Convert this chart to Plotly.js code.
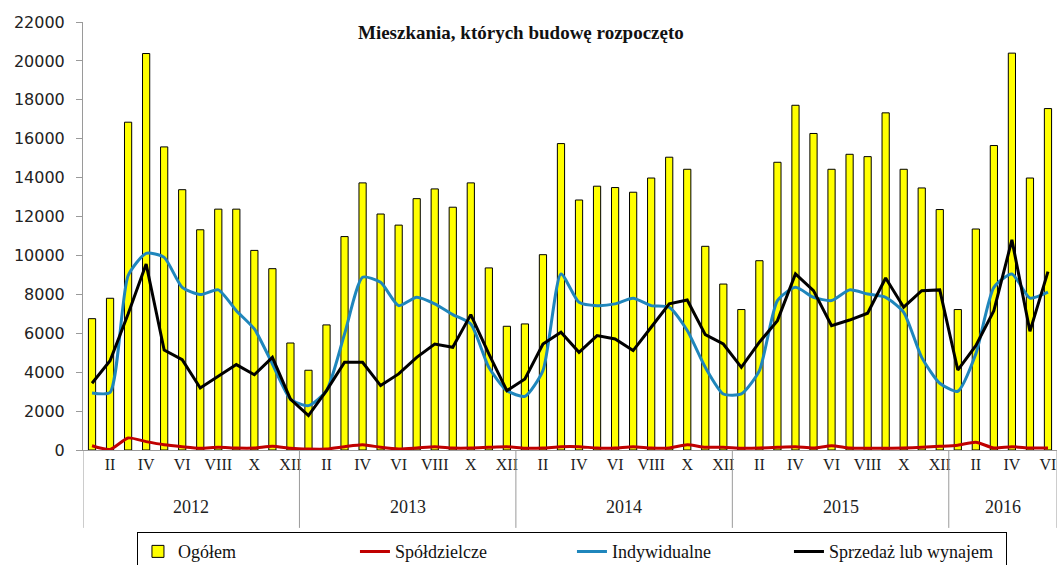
<!DOCTYPE html>
<html>
<head>
<meta charset="utf-8">
<script src="https://cdn.plot.ly/plotly-3.0.1.min.js"></script>
<style>html,body{margin:0;padding:0;background:#fff;}#chart{width:1063px;height:565px;}</style>
</head>
<body>
<div id="chart"></div>
<script>
// ---- data ----
const years = ['2012', '2013', '2014', '2015', '2016'];
const monthsPerYear = [12, 12, 12, 12, 6];
const romanMonths = ['I','II','III','IV','V','VI','VII','VIII','IX','X','XI','XII'];

const ogolem = [
  6750, 7800, 16850, 20380, 15580, 13380, 11320, 12380, 12380, 10260, 9320, 5500,
  4100, 6430, 10970, 13730, 12130, 11560, 12920, 13420, 12480, 13730, 9360, 6360,
  6480, 10040, 15750, 12850, 13560, 13490, 13250, 13980, 15050, 14430, 10470, 8530,
  7220, 9730, 14790, 17720, 16270, 14430, 15200, 15080, 17330, 14430, 13470, 12360,
  7220, 11360, 15650, 20400, 13980, 17550
];
const spoldzielcze = [
  220, 30, 620, 430, 270, 170, 90, 140, 100, 100, 190, 90,
  50, 50, 170, 270, 140, 50, 100, 170, 100, 100, 140, 170,
  90, 100, 170, 170, 100, 100, 170, 100, 100, 270, 140, 140,
  90, 100, 140, 170, 100, 220, 100, 90, 90, 100, 140, 190,
  250, 400, 100, 170, 100, 100
];
const indywidualne = [
  2930, 2960, 8960, 10110, 9900, 8360, 7990, 8230, 7160, 6220, 4420, 2620,
  2280, 3050, 5960, 8880, 8620, 7420, 7850, 7510, 6960, 6480, 4250, 3050,
  2760, 4080, 9050, 7590, 7420, 7510, 7800, 7420, 7340, 6140, 4250, 2880,
  2880, 4080, 7680, 8360, 7850, 7680, 8230, 8020, 7850, 7080, 4760, 3430,
  3020, 4940, 8360, 9050, 7810, 8110
];
const sprzedaz = [
  3430, 4590, 6990, 9560, 5140, 4640, 3190, 3770, 4390, 3870, 4760, 2620,
  1770, 3050, 4510, 4510, 3310, 3910, 4760, 5450, 5280, 6960, 4940, 3050,
  3650, 5450, 6050, 5020, 5880, 5710, 5110, 6310, 7510, 7710, 5930, 5450,
  4250, 5540, 6650, 9050, 8190, 6390, 6680, 7030, 8840, 7340, 8190, 8230,
  4110, 5360, 7160, 10800, 6100, 9170
];
const seriesNames = ['Ogółem', 'Spółdzielcze', 'Indywidualne', 'Sprzedaż lub wynajem'];
const titleText = 'Mieszkania, których budowę rozpoczęto';

// ---- build positions ----
const x = [];
const tickvals = [], ticktext = [];
const yearStarts = [];
let idx = 0;
monthsPerYear.forEach((n, yi) => {
  yearStarts.push(idx);
  for (let m = 0; m < n; m++) {
    x.push(idx);
    if ((m + 1) % 2 === 0) { tickvals.push(idx); ticktext.push(romanMonths[m]); }
    idx++;
  }
});
const total = idx;

const serif = '"Liberation Serif"';

const traces = [
  { type: 'bar', x: x, y: ogolem, name: seriesNames[0],
    marker: { color: '#FFFF00', line: { color: '#000000', width: 1 } } },
  { type: 'scatter', mode: 'lines', x: x, y: spoldzielcze, name: seriesNames[1],
    line: { color: '#C00000', width: 3, shape: 'spline', smoothing: 0.6 } },
  { type: 'scatter', mode: 'lines', x: x, y: indywidualne, name: seriesNames[2],
    line: { color: '#1F86BC', width: 3, shape: 'spline', smoothing: 0.6 } },
  { type: 'scatter', mode: 'lines', x: x, y: sprzedaz, name: seriesNames[3],
    line: { color: '#000000', width: 3 } }
];

const shapes = [];
const annotations = [];
yearStarts.forEach((s, yi) => {
  shapes.push({ type: 'line', xref: 'x', yref: 'paper', x0: s - 0.5, x1: s - 0.5, y0: 0, y1: -0.182,
    line: { color: '#9a9a9a', width: 1 } });
  annotations.push({ xref: 'x', yref: 'paper', x: s + (monthsPerYear[yi] - 1) / 2, y: -0.133,
    text: years[yi], showarrow: false, yanchor: 'middle',
    font: { family: serif, size: 18, color: '#222' } });
});
shapes.push({ type: 'line', xref: 'x', yref: 'paper', x0: total - 0.5, x1: total - 0.5, y0: 0, y1: -0.182,
  line: { color: '#9a9a9a', width: 1 } });

const layout = {
  width: 1063, height: 565,
  margin: { l: 83, r: 6, t: 22, b: 115, autoexpand: false },
  paper_bgcolor: '#ffffff', plot_bgcolor: '#ffffff',
  showlegend: true,
  bargap: 0.6,
  title: { text: '<b>' + titleText + '</b>', x: 0.49, xref: 'container', y: 0.943, yref: 'container',
    yanchor: 'middle', xanchor: 'center',
    font: { family: serif, size: 19, color: '#111' } },
  xaxis: {
    range: [-0.5, total - 0.5],
    tickmode: 'array', tickvals: tickvals, ticktext: ticktext, tickangle: 0,
    showgrid: false, zeroline: false, showline: true, linecolor: '#9a9a9a', linewidth: 1,
    ticks: '', tickfont: { family: serif, size: 16, color: '#222' }
  },
  yaxis: {
    range: [0, 22000], tickmode: 'linear', tick0: 0, dtick: 2000, tickformat: 'd',
    showgrid: false, zeroline: false, showline: true, linecolor: '#9a9a9a', linewidth: 1,
    ticks: 'outside', ticklen: 6, tickcolor: '#9a9a9a', ticklabelstandoff: 8,
    tickfont: { family: '"DejaVu Sans"', size: 16, color: '#222' }
  },
  legend: {
    orientation: 'h', x: 0.0554, xanchor: 'left', y: -0.192, yanchor: 'top',
    bordercolor: '#000', borderwidth: 1, bgcolor: '#fff',
    entrywidth: 172, entrywidthmode: 'pixels', itemwidth: 30,
    font: { family: serif, size: 18, color: '#111' },
    traceorder: 'normal'
  },
  shapes: shapes,
  annotations: annotations
};

Plotly.newPlot('chart', traces, layout, { displayModeBar: false, staticPlot: true });
</script>
</body>
</html>
